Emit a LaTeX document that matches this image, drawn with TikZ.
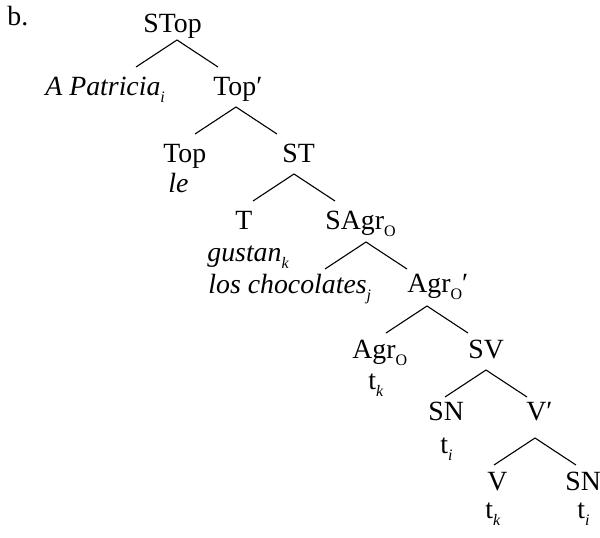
\documentclass[tikz,border=0pt]{standalone}
\usepackage{fontspec}
\setmainfont{Liberation Serif}
\usepackage{tikz}
\usetikzlibrary{calc,positioning}

\newcommand{\lsub}[1]{\raisebox{-3.5pt}{\fontsize{8}{8}\selectfont #1}}

\begin{document}
\begin{tikzpicture}[x=0.5pt,y=-0.5pt]

\tikzset{lbl/.style={inner sep=0pt, anchor=base west, font=\fontsize{13.9}{16}\selectfont},
branch/.style={line width=0.55pt}}

\useasboundingbox (0,0) rectangle (600,537);

\node[lbl] (ex) at (7,25) {b.};

%labels of the tree
\node[lbl] (stop) at (143,32) {STop};
\node[lbl] (patr) at (45,95) {\textit{A Patricia}\lsub{\textit{i}}};
\node[lbl] (topbar) at (213,95) {Top′};
\node[lbl] (top) at (163,162) {Top};
\node[lbl] (le) at (168,192) {\textit{le}};
\node[lbl] (st) at (282,162) {ST};
\node[lbl] (t) at (235,229) {T};
\node[lbl] (sagr) at (325,229) {SAgr\lsub{O}};
\node[lbl] (gustan) at (207,261) {\textit{gustan}\lsub{\textit{k}}};
\node[lbl] (choc) at (208,293) {\textit{los chocolates}\lsub{\textit{j}}};
\node[lbl] (agrbar) at (407,292) {Agr\lsub{O}′};
\node[lbl] (agr) at (352,358) {Agr\lsub{O}};
\node[lbl] (tka) at (368,389) {t\lsub{\textit{k}}};
\node[lbl] (sv) at (468,358) {SV};
\node[lbl] (sna) at (428,420) {SN};
\node[lbl] (tia) at (440,453) {t\lsub{\textit{i}}};
\node[lbl] (vbar) at (526,420) {V′};
\node[lbl] (v) at (487,490) {V};
\node[lbl] (snb) at (565,490) {SN};
\node[lbl] (tkb) at (485,518) {t\lsub{\textit{k}}};
\node[lbl] (tib) at (577,518) {t\lsub{\textit{i}}};

%branching points
\coordinate (ap1) at (177,40);
\coordinate (ap2) at (236,107);
\coordinate (ap3) at (294,174);
\coordinate (ap4) at (366,242);
\coordinate (ap5) at (427,306);
\coordinate (ap6) at (486,370);
\coordinate (ap7) at (535,438);

\foreach \a in {ap1,ap2,ap3,ap4,ap5,ap6,ap7}
  \draw[branch] ($(\a)+(-41,27)$) -- (\a) -- ($(\a)+(41,27)$);

\end{tikzpicture}
\end{document}
